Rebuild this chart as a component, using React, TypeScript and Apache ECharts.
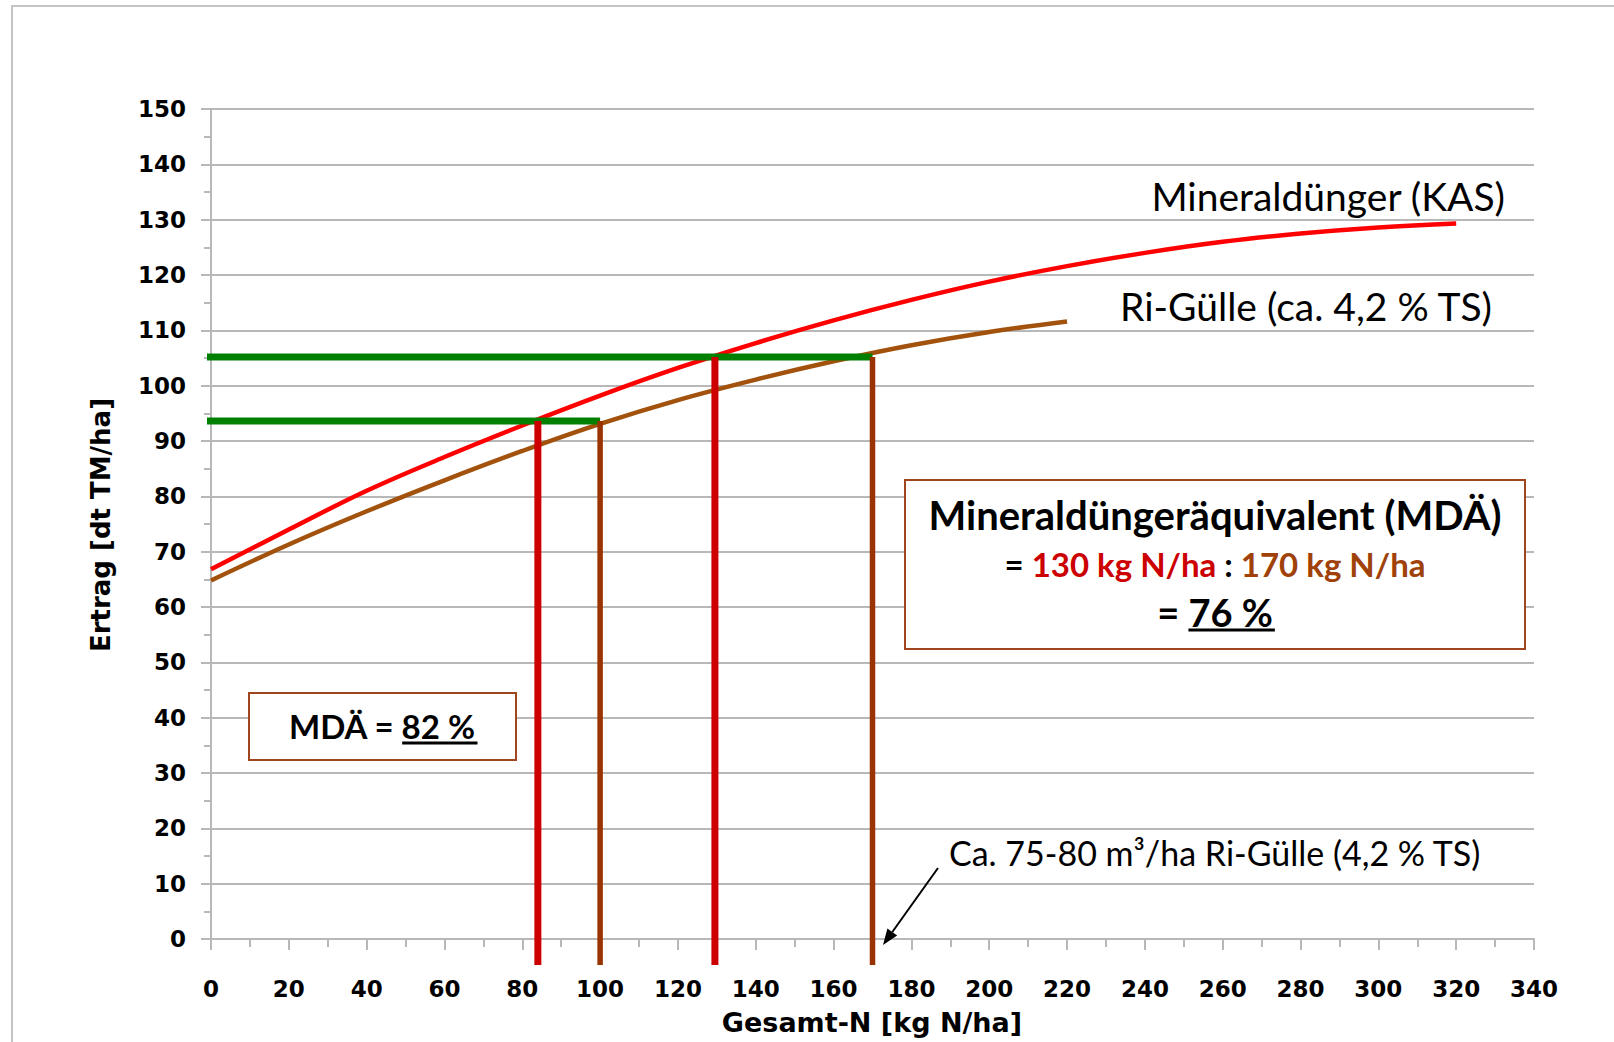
import React, { useEffect, useRef } from "react";
import * as echarts from "echarts";

// ---- data ----
const mineralN = [0, 20, 40, 60, 80, 100, 120, 140, 160, 180, 200, 220, 240, 260, 280, 300, 320];
const mineralYield = [66.8, 74.0, 81.0, 87.1, 92.8, 98.2, 103.2, 107.7, 111.8, 115.5, 118.8, 121.6, 124.0, 126.0, 127.5, 128.6, 129.3];
const slurryN = [0, 20, 40, 60, 80, 100, 120, 140, 160, 180, 200, 220];
const slurryYield = [64.8, 71.3, 77.3, 82.9, 88.2, 93.1, 97.4, 101.1, 104.4, 107.3, 109.7, 111.6];

const equivYield = [93.6, 105.2]; // green horizontal levels
const mineralEquivN = [84, 129.5]; // red verticals
const slurryEquivN = [100, 170]; // brown verticals
const hLineStartN = -2.3;
const vLineBottomYield = -4.7;

const xAxisName = "Gesamt-N [kg N/ha]";
const yAxisName = "Ertrag [dt TM/ha]";
const mineralLabel = "Mineraldünger (KAS)";
const slurryLabel = "Ri-Gülle (ca. 4,2 % TS)";
const noteLabel = "Ca. 75-80 m³/ha Ri-Gülle (4,2 % TS)";

const RED = "#ff0000";
const BROWN = "#a2520c";
const DRED = "#cc0000";
const DBROWN = "#993300";
const GREEN = "#008000";
const BOXC = "#a0461e";
const GRID = "#b8b8b8";

function measure(text: string, font: string): number {
  const c = document.createElement("canvas").getContext("2d");
  if (!c) return text.length * 10;
  c.font = font;
  return c.measureText(text).width;
}

export default function App() {
  const ref = useRef<HTMLDivElement>(null);
  useEffect(() => {
    if (!ref.current) return;
    const chart = echarts.init(ref.current, null, { renderer: "svg" });

    const lineSeries: any[] = [];
    lineSeries.push({
      type: "line",
      data: mineralN.map((x, i) => [x, mineralYield[i]]),
      smooth: 0.4,
      symbol: "none",
      lineStyle: { color: RED, width: 4.5 },
      z: 2,
      silent: true,
    });
    lineSeries.push({
      type: "line",
      data: slurryN.map((x, i) => [x, slurryYield[i]]),
      smooth: 0.4,
      symbol: "none",
      lineStyle: { color: BROWN, width: 4.5 },
      z: 2,
      silent: true,
    });
    equivYield.forEach((y, i) => {
      lineSeries.push({
        type: "line",
        data: [[hLineStartN, y], [slurryEquivN[i], y]],
        symbol: "none",
        clip: false,
        lineStyle: { color: GREEN, width: 7, cap: "butt" },
        z: 3,
        silent: true,
      });
    });
    equivYield.forEach((y, i) => {
      lineSeries.push({
        type: "line",
        data: [[mineralEquivN[i], y], [mineralEquivN[i], vLineBottomYield]],
        symbol: "none",
        clip: false,
        lineStyle: { color: DRED, width: 7, cap: "butt" },
        z: 4,
        silent: true,
      });
      lineSeries.push({
        type: "line",
        data: [[slurryEquivN[i], y], [slurryEquivN[i], vLineBottomYield]],
        symbol: "none",
        clip: false,
        lineStyle: { color: DBROWN, width: 5.5, cap: "butt" },
        z: 4,
        silent: true,
      });
    });

    // underline computations
    const f3 = "bold 38px Lato";
    const l3a = "= ";
    const l3b = "76 %";
    const w3a = measure(l3a, f3);
    const w3b = measure(l3b, f3);
    const cx1 = 1215;
    const u1x0 = cx1 - (w3a + w3b) / 2 + w3a;
    const u1x1 = cx1 + (w3a + w3b) / 2;

    const f4 = "bold 33px Lato";
    const l4a = "MDÄ = ";
    const l4b = "82 %";
    const w4a = measure(l4a, f4);
    const w4b = measure(l4b, f4);
    const cx2 = 382;
    const u2x0 = cx2 - (w4a + w4b) / 2 + w4a;
    const u2x1 = cx2 + (w4a + w4b) / 2;

    // arrow
    const ax0 = 938, ay0 = 868, ax1 = 883, ay1 = 945;
    const dx = ax1 - ax0, dy = ay1 - ay0;
    const len = Math.sqrt(dx * dx + dy * dy);
    const ux = dx / len, uy = dy / len;
    const hl = 16, hw = 6;
    const bx = ax1 - ux * hl, by = ay1 - uy * hl;

    const option: any = {
      animation: false,
      backgroundColor: "#ffffff",
      grid: { left: 211, top: 109, width: 1323, height: 830, containLabel: false },
      xAxis: {
        type: "value",
        min: 0,
        max: 340,
        interval: 20,
        axisLine: { show: true, lineStyle: { color: GRID, width: 2 } },
        axisTick: { show: true, length: 11, lineStyle: { color: GRID, width: 2 } },
        minorTick: { show: true, splitNumber: 2, length: 8, lineStyle: { color: GRID, width: 2 } },
        splitLine: { show: false },
        axisLabel: {
          margin: 38,
          color: "#000",
          fontFamily: "DejaVu Sans",
          fontWeight: "bold",
          fontSize: 23,
        },
      },
      yAxis: {
        type: "value",
        min: 0,
        max: 150,
        interval: 10,
        axisLine: { show: true, lineStyle: { color: GRID, width: 2 } },
        axisTick: { show: true, length: 10, lineStyle: { color: GRID, width: 2 } },
        minorTick: { show: true, splitNumber: 2, length: 7, lineStyle: { color: GRID, width: 2 } },
        splitLine: { show: true, lineStyle: { color: GRID, width: 2 } },
        axisLabel: {
          margin: 25,
          color: "#000",
          fontFamily: "DejaVu Sans",
          fontWeight: "bold",
          fontSize: 23,
        },
      },
      series: lineSeries,
      graphic: [
        {
          type: "rect",
          shape: { x: 12, y: 6, width: 1700, height: 1100 },
          style: { fill: "none", stroke: "#c4c4c4", lineWidth: 2 },
          silent: true,
          z: 0,
        },
        {
          type: "text",
          x: 872,
          y: 1022,
          style: {
            text: xAxisName,
            fill: "#000",
            font: "bold 27px 'DejaVu Sans'",
            align: "center",
            verticalAlign: "middle",
          },
          z: 10,
        },
        {
          type: "text",
          x: 101,
          y: 525,
          rotation: Math.PI / 2,
          style: {
            text: yAxisName,
            fill: "#000",
            font: "bold 26px 'DejaVu Sans'",
            align: "center",
            verticalAlign: "middle",
          },
          z: 10,
        },
        {
          type: "text",
          x: 1505,
          y: 196,
          style: {
            text: mineralLabel,
            fill: "#000",
            font: "39px Lato",
            align: "right",
            verticalAlign: "middle",
          },
          z: 10,
        },
        {
          type: "text",
          x: 1492,
          y: 306,
          style: {
            text: slurryLabel,
            fill: "#000",
            font: "39px Lato",
            align: "right",
            verticalAlign: "middle",
          },
          z: 10,
        },
        {
          type: "text",
          x: 949,
          y: 852,
          style: {
            text: noteLabel,
            fill: "#000",
            font: "34px Lato",
            align: "left",
            verticalAlign: "middle",
          },
          z: 10,
        },
        {
          type: "line",
          shape: { x1: ax0, y1: ay0, x2: bx, y2: by },
          style: { stroke: "#000", lineWidth: 2 },
          z: 10,
        },
        {
          type: "polygon",
          shape: {
            points: [
              [ax1, ay1],
              [bx + uy * hw, by - ux * hw],
              [bx - uy * hw, by + ux * hw],
            ],
          },
          style: { fill: "#000" },
          z: 10,
        },
        // big box
        {
          type: "rect",
          shape: { x: 905, y: 480, width: 620, height: 169 },
          style: { fill: "#fff", stroke: BOXC, lineWidth: 2 },
          z: 10,
        },
        {
          type: "text",
          x: cx1,
          y: 515,
          style: {
            text: "Mineraldüngeräquivalent (MDÄ)",
            fill: "#000",
            font: "bold 40px Lato",
            align: "center",
            verticalAlign: "middle",
          },
          z: 11,
        },
        {
          type: "text",
          x: cx1,
          y: 564,
          style: {
            text: "{k|= }{r|130 kg N/ha}{k| : }{b|170 kg N/ha}",
            font: "bold 33px Lato",
            align: "center",
            verticalAlign: "middle",
            rich: {
              k: { fill: "#000", font: "bold 33px Lato" },
              r: { fill: DRED, font: "bold 33px Lato" },
              b: { fill: "#a0410a", font: "bold 33px Lato" },
            },
          },
          z: 11,
        },
        {
          type: "text",
          x: cx1,
          y: 612,
          style: {
            text: l3a + l3b,
            fill: "#000",
            font: f3,
            align: "center",
            verticalAlign: "middle",
          },
          z: 11,
        },
        {
          type: "line",
          shape: { x1: u1x0, y1: 630, x2: u1x1 + 2, y2: 630 },
          style: { stroke: "#000", lineWidth: 3 },
          z: 11,
        },
        // small box
        {
          type: "rect",
          shape: { x: 249, y: 693, width: 267, height: 67 },
          style: { fill: "#fff", stroke: BOXC, lineWidth: 2 },
          z: 10,
        },
        {
          type: "text",
          x: cx2,
          y: 726,
          style: {
            text: l4a + l4b,
            fill: "#000",
            font: f4,
            align: "center",
            verticalAlign: "middle",
          },
          z: 11,
        },
        {
          type: "line",
          shape: { x1: u2x0, y1: 743, x2: u2x1 + 2, y2: 743 },
          style: { stroke: "#000", lineWidth: 3 },
          z: 11,
        },
      ],
    };
    chart.setOption(option);
    return () => chart.dispose();
  }, []);
  return (
    <div
      ref={ref}
      style={{ position: "fixed", left: 0, top: 0, width: 1614, height: 1042, background: "#fff" }}
    />
  );
}
